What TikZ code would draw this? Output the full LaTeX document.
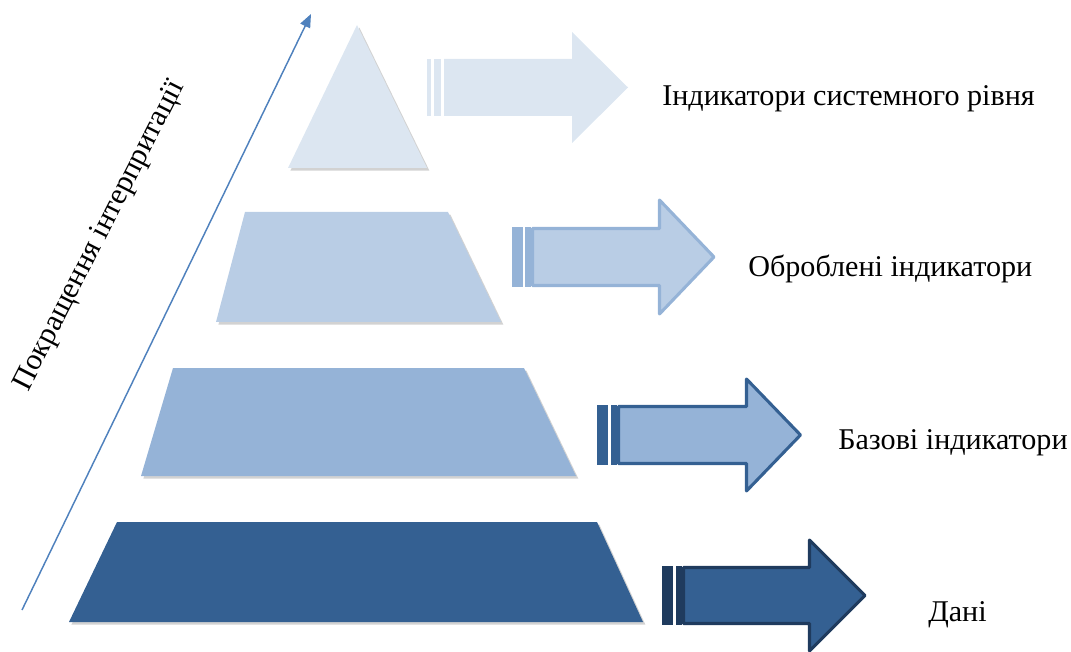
\documentclass[tikz,border=0pt]{standalone}
\usepackage{fontspec}
\setmainfont{Liberation Serif}
\usetikzlibrary{arrows.meta,shadows}
\definecolor{cA}{RGB}{220,230,241}
\definecolor{cB}{RGB}{185,205,229}
\definecolor{cC}{RGB}{149,179,215}
\definecolor{cD}{RGB}{52,96,146}
\definecolor{cE}{RGB}{31,59,94}
\definecolor{axisblue}{RGB}{79,129,189}
\begin{document}
\begin{tikzpicture}[x=0.75pt,y=-0.75pt,
  layer/.style={draw=none,drop shadow={shadow xshift=1.8pt,shadow yshift=-2.0pt,opacity=0.22,fill=black!80}},
  lbl/.style={font=\fontsize{22.6}{26}\selectfont,anchor=base west,inner sep=0pt},
  axislbl/.style={font=\fontsize{22.6}{26}\selectfont,rotate=63,inner sep=0pt},
  axisline/.style={draw=axisblue,line width=1.1pt,-{Triangle[length=10pt,width=8pt]}},
  arrA/.style={fill=cA,draw=none},
  arrB/.style={fill=cB,draw=cC,line width=2.3pt,line join=round},
  arrC/.style={fill=cC,draw=cD,line width=2.3pt,line join=round},
  arrD/.style={fill=cD,draw=cE,line width=2.3pt,line join=round},
]
\useasboundingbox (0,0) rectangle (1071,652);
% pyramid layers
\path[layer,fill=cA] (357,25) -- (427,168) -- (288,168) -- cycle;
\path[layer,fill=cB] (245,212) -- (448,212) -- (501,322) -- (216,322) -- cycle;
\path[layer,fill=cC] (173,368) -- (524,368) -- (576,476) -- (141,476) -- cycle;
\path[layer,fill=cD] (117,522) -- (597,522) -- (643,622) -- (69,622) -- cycle;
% axis
\coordinate (ax0) at (22,610);
\coordinate (ax1) at (311,14);
\draw[axisline] (ax0) -- (ax1);
\node[axislbl] (axl) at (100,236) {Покращення інтерпритації};
% arrow 1
\fill[cA] (427,59) rectangle (431,116);
\fill[cA] (434,59) rectangle (441,116);
\path[arrA] (444,59) -- (572,59) -- (572,32) -- (628,87.5) -- (572,143) -- (572,116) -- (444,116) -- cycle;
% arrow 2
\fill[cC] (512,227) rectangle (523,287);
\fill[cC] (525,227) rectangle (531,287);
\path[arrB] (532.5,228.5) -- (659.5,228.5) -- (659.5,200) -- (714,257) -- (659.5,314) -- (659.5,285.5) -- (532.5,285.5) -- cycle;
% arrow 3
\fill[cD] (597,405) rectangle (608,465);
\fill[cD] (611,405) rectangle (617,465);
\path[arrC] (618.5,406.5) -- (746.5,406.5) -- (746.5,379) -- (800.5,435) -- (746.5,491) -- (746.5,463.5) -- (618.5,463.5) -- cycle;
% arrow 4
\fill[cE] (662,566) rectangle (673,625);
\fill[cE] (676,566) rectangle (682,625);
\path[arrD] (683.5,567.5) -- (809.5,567.5) -- (809.5,540) -- (865,595.5) -- (809.5,651) -- (809.5,623.5) -- (683.5,623.5) -- cycle;
% labels
\node[lbl] (l1) at (662,106) {Індикатори системного рівня};
\node[lbl] (l2) at (748,277) {Оброблені індикатори};
\node[lbl] (l3) at (838,449) {Базові індикатори};
\node[lbl] (l4) at (928,621) {Дані};
\end{tikzpicture}
\end{document}
